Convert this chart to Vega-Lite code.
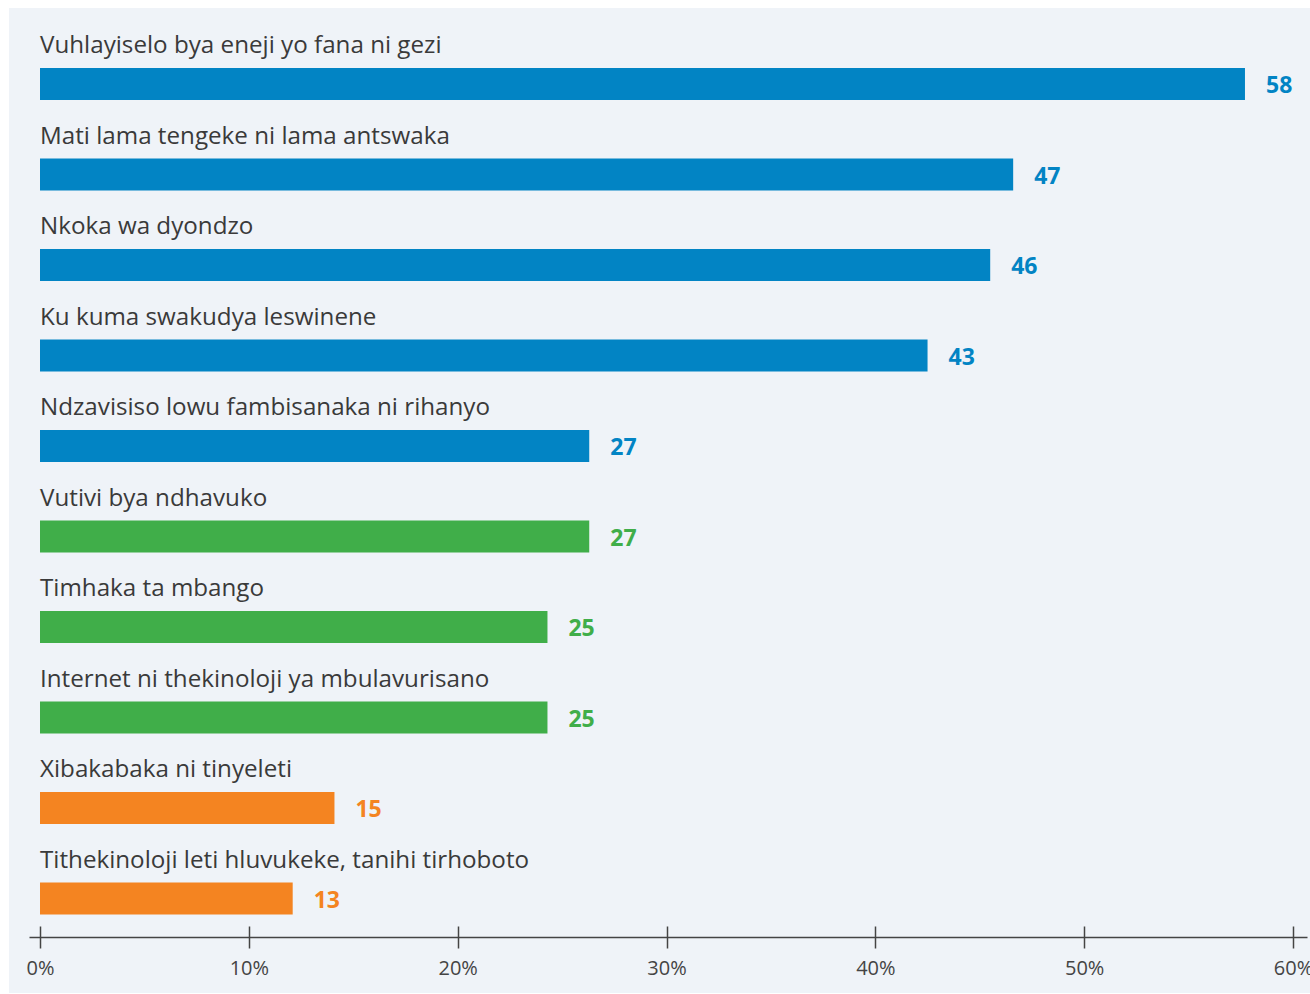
{
  "$schema": "https://vega.github.io/schema/vega-lite/v6.json",
  "width": 1301,
  "height": 985,
  "autosize": "none",
  "padding": {"left": 9, "top": 8, "right": 0, "bottom": 1},
  "background": "white",
  "config": {
    "view": {"fill": "#eff3f8", "stroke": null},
    "font": "Open Sans"
  },
  "data": {
    "values": [
      {"category": "Vuhlayiselo bya eneji yo fana ni gezi", "value": 57.7, "label": "58", "group": "a"},
      {"category": "Mati lama tengeke ni lama antswaka", "value": 46.6, "label": "47", "group": "a"},
      {"category": "Nkoka wa dyondzo", "value": 45.5, "label": "46", "group": "a"},
      {"category": "Ku kuma swakudya leswinene", "value": 42.5, "label": "43", "group": "a"},
      {"category": "Ndzavisiso lowu fambisanaka ni rihanyo", "value": 26.3, "label": "27", "group": "a"},
      {"category": "Vutivi bya ndhavuko", "value": 26.3, "label": "27", "group": "b"},
      {"category": "Timhaka ta mbango", "value": 24.3, "label": "25", "group": "b"},
      {"category": "Internet ni thekinoloji ya mbulavurisano", "value": 24.3, "label": "25", "group": "b"},
      {"category": "Xibakabaka ni tinyeleti", "value": 14.1, "label": "15", "group": "c"},
      {"category": "Tithekinoloji leti hluvukeke, tanihi tirhoboto", "value": 12.1, "label": "13", "group": "c"}
    ]
  },
  "encoding": {
    "y": {
      "field": "category",
      "type": "nominal",
      "sort": null,
      "scale": {"range": [8, 913], "paddingInner": 0, "paddingOuter": 0},
      "axis": null
    }
  },
  "layer": [
    {
      "mark": {"type": "bar", "height": 32, "yOffset": 22.75},
      "encoding": {
        "x": {
          "field": "value",
          "type": "quantitative",
          "scale": {"domain": [-0.527, 60.67], "range": [20, 1298], "nice": false, "zero": false},
          "axis": {
            "orient": "bottom",
            "offset": -56,
            "values": [0, 10, 20, 30, 40, 50, 60],
            "labelExpr": "datum.value + '%'",
            "title": null,
            "grid": false,
            "domainColor": "#444444",
            "domainWidth": 1.5,
            "tickColor": "#444444",
            "tickWidth": 1.5,
            "tickSize": 11,
            "labelFont": "Open Sans",
            "labelFontSize": 20,
            "labelColor": "#444444",
            "labelPadding": 10
          }
        },
        "x2": {"datum": 0},
        "color": {
          "field": "group",
          "type": "nominal",
          "scale": {"domain": ["a", "b", "c"], "range": ["#0284c4", "#40ae49", "#f48421"]},
          "legend": null
        }
      }
    },
    {
      "mark": {"type": "text", "align": "left", "baseline": "middle", "dx": 21, "yOffset": 25, "fontSize": 23, "fontWeight": "bold", "font": "Open Sans"},
      "encoding": {
        "x": {
          "field": "value",
          "type": "quantitative",
          "axis": {
            "orient": "bottom",
            "offset": -56,
            "values": [0, 10, 20, 30, 40, 50, 60],
            "labels": false,
            "domain": false,
            "title": null,
            "grid": false,
            "tickColor": "#444444",
            "tickWidth": 1.5,
            "tickSize": -11
          }
        },
        "text": {"field": "label"},
        "color": {"field": "group", "type": "nominal", "legend": null}
      }
    },
    {
      "mark": {"type": "text", "align": "left", "baseline": "alphabetic", "yOffset": -8, "fontSize": 24.2, "color": "#3a3a3a", "font": "Open Sans"},
      "encoding": {
        "x": {"datum": 0, "type": "quantitative", "axis": null},
        "text": {"field": "category"}
      }
    }
  ],
  "resolve": {"axis": {"x": "independent"}}
}
